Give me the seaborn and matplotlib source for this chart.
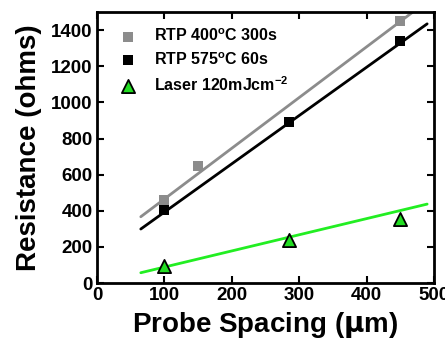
import matplotlib
matplotlib.use("Agg")
import matplotlib.pyplot as plt
import seaborn as sns
import pandas as pd
import numpy as np

# Data
x_400 = [100, 150, 450]
y_400 = [460, 650, 1450]
x_575 = [100, 285, 450]
y_575 = [405, 893, 1340]
x_laser = [100, 285, 450]
y_laser = [95, 240, 355]

# Fitted line endpoints as drawn
fit_x = [65, 490]
fit_400 = [367, 1560]
fit_575 = [299, 1435]
fit_laser = [57, 437]

labels = ["RTP 400$^{\\mathregular{o}}$C 300s",
          "RTP 575$^{\\mathregular{o}}$C 60s",
          "Laser 120mJcm$^{\\mathregular{-2}}$"]

sns.set_style("ticks")
plt.rcParams["font.family"] = ["Liberation Sans", "DejaVu Sans"]
plt.rcParams["font.weight"] = "bold"
plt.rcParams["mathtext.default"] = "regular"
plt.rcParams["text.color"] = "black"
plt.rcParams["axes.labelcolor"] = "black"
plt.rcParams["xtick.color"] = "black"
plt.rcParams["ytick.color"] = "black"
plt.rcParams["axes.edgecolor"] = "black"

fig = plt.figure(figsize=(4.45, 3.46), dpi=100)
ax = fig.add_axes([0.218, 0.182, 0.757, 0.783])

gray = "#8c8c8c"
green = "#22ee22"

lines = pd.DataFrame({
    "x": fit_x * 3,
    "y": fit_400 + fit_575 + fit_laser,
    "s": ["a"] * 2 + ["b"] * 2 + ["c"] * 2,
})
sns.lineplot(data=lines, x="x", y="y", hue="s",
             palette={"a": gray, "b": "black", "c": green},
             linewidth=2, legend=False, ax=ax, zorder=2)

sns.scatterplot(x=x_400, y=y_400, marker="s", color=gray, s=55,
                edgecolor=gray, linewidth=0, ax=ax, label=labels[0], zorder=3)
sns.scatterplot(x=x_575, y=y_575, marker="s", color="black", s=55,
                edgecolor="black", linewidth=0, ax=ax, label=labels[1], zorder=3)
sns.scatterplot(x=x_laser, y=y_laser, marker="^", color="#22dd22", s=90,
                edgecolor="black", linewidth=1.3, ax=ax, label=labels[2], zorder=3)

ax.set_xlim(0, 500)
ax.set_ylim(0, 1500)
ax.set_xticks([0, 100, 200, 300, 400, 500])
ax.set_yticks([0, 200, 400, 600, 800, 1000, 1200, 1400])
ax.tick_params(direction="in", length=5, width=1.5, top=True, right=True,
               labelsize=13.5, pad=3, colors="black")
for t in ax.get_xticklabels() + ax.get_yticklabels():
    t.set_fontweight("bold")
for sp in ax.spines.values():
    sp.set_linewidth(2)
    sp.set_visible(True)
    sp.set_color("black")

ax.set_xlabel("Probe Spacing ($\\mathbf{\\mu}$m)", fontsize=20, fontweight="bold",
              labelpad=4, color="black")
ax.set_ylabel("Resistance (ohms)", fontsize=20, fontweight="bold",
              labelpad=7, color="black")

leg = ax.legend(loc="upper left", frameon=False,
                prop={"weight": "bold", "size": 11.5},
                handletextpad=0.6, labelspacing=0.45,
                borderaxespad=0.55, markerscale=1.0)
for t in leg.get_texts():
    t.set_color("black")

fig.savefig("out.png", dpi=100)
